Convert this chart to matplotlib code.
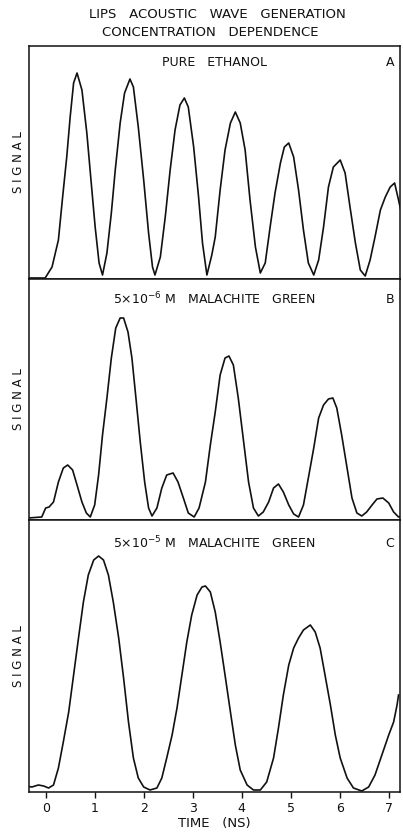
import matplotlib
matplotlib.use("Agg")
import matplotlib.pyplot as plt

# time (ns) / signal (a.u.)
t_a = [-0.34, -0.01, 0.13, 0.26, 0.34, 0.43, 0.50, 0.57, 0.64, 0.74, 0.84, 0.93, 1.01, 1.09, 1.16,
       1.25, 1.34, 1.42, 1.52, 1.61, 1.72, 1.79, 1.89, 2.00, 2.10, 2.18, 2.23,
       2.34, 2.44, 2.54, 2.64, 2.74, 2.83, 2.91, 3.02, 3.12, 3.20, 3.29,
       3.39, 3.46, 3.56, 3.66, 3.77, 3.87, 3.97, 4.07, 4.17, 4.28, 4.38,
       4.48, 4.58, 4.68, 4.79, 4.87, 4.96, 5.06, 5.16, 5.26, 5.36, 5.47,
       5.57, 5.67, 5.77, 5.87, 6.01, 6.11, 6.21, 6.32, 6.42, 6.52,
       6.62, 6.72, 6.83, 6.93, 7.03, 7.12, 7.20, 7.29]
s_a = [1, 1, 12, 39, 79, 122, 162, 196, 206, 189, 146, 96, 52, 16, 4,
       26, 66, 109, 156, 186, 200, 192, 152, 99, 46, 12, 4,
       22, 62, 109, 149, 174, 181, 172, 132, 82, 36, 4,
       24, 42, 89, 129, 156, 167, 156, 129, 79, 32, 6,
       16, 52, 86, 116, 132, 136, 122, 89, 49, 16, 4,
       19, 52, 92, 112, 119, 106, 72, 36, 9, 3,
       19, 42, 69, 82, 92, 96, 79, 59]

t_b = [-0.36, -0.08, 0.00, 0.07, 0.16, 0.26, 0.36, 0.45, 0.55, 0.64, 0.74, 0.83, 0.91,
       1.00, 1.08, 1.16, 1.25, 1.34, 1.43, 1.52, 1.59, 1.68, 1.76, 1.85, 1.93, 2.02, 2.10, 2.17,
       2.27, 2.37, 2.47, 2.60, 2.70, 2.81, 2.91, 3.03,
       3.13, 3.26, 3.36, 3.46, 3.56, 3.66, 3.74, 3.83, 3.93, 4.04, 4.14, 4.24, 4.34,
       4.44, 4.55, 4.65, 4.75, 4.85, 4.96, 5.06, 5.16,
       5.26, 5.36, 5.47, 5.57, 5.67, 5.77, 5.86, 5.94, 6.04, 6.15, 6.25, 6.35, 6.45,
       6.55, 6.66, 6.76, 6.88, 7.00, 7.10, 7.20, 7.29]
s_b = [2, 3, 12, 13, 18, 38, 52, 55, 50, 35, 18, 7, 3,
       15, 45, 85, 122, 162, 192, 202, 202, 188, 162, 118, 78, 38, 12, 4,
       12, 32, 45, 47, 38, 22, 7, 3,
       12, 38, 75, 108, 145, 162, 164, 155, 122, 78, 38, 12, 4,
       8, 18, 32, 36, 28, 15, 6, 3,
       15, 42, 72, 102, 115, 121, 122, 112, 85, 52, 22, 7, 4,
       8, 15, 21, 22, 17, 8, 3, 4]

t_c = [-0.42, -0.28, -0.15, -0.04, 0.06, 0.16, 0.26, 0.36, 0.47, 0.57, 0.67, 0.77, 0.87, 0.98,
       1.08, 1.18, 1.28, 1.38, 1.49, 1.59, 1.69, 1.79, 1.89, 2.00, 2.13,
       2.27, 2.37, 2.47, 2.58, 2.68, 2.78, 2.88, 2.98, 3.09, 3.19, 3.26,
       3.36, 3.46, 3.56, 3.66, 3.77, 3.87, 3.97, 4.11, 4.24, 4.38,
       4.51, 4.65, 4.75, 4.85, 4.96, 5.06, 5.16, 5.26, 5.40,
       5.50, 5.60, 5.70, 5.81, 5.91, 6.01, 6.15, 6.28, 6.45,
       6.59, 6.72, 6.86, 7.00, 7.10, 7.17, 7.20]
s_c = [6, 5, 7, 6, 4, 7, 24, 50, 80, 117, 154, 190, 217, 232,
       236, 232, 217, 190, 154, 114, 70, 34, 14, 5, 2,
       4, 14, 34, 57, 84, 117, 150, 177, 197, 205, 206,
       200, 180, 150, 117, 80, 47, 22, 7, 2, 2,
       10, 34, 64, 97, 127, 144, 154, 162, 167,
       160, 144, 117, 87, 57, 34, 14, 4, 1,
       5, 17, 37, 57, 70, 87, 97]

labels = ["PURE   ETHANOL",
          r"5$\times$10$^{-6}$ M   MALACHITE   GREEN",
          r"5$\times$10$^{-5}$ M   MALACHITE   GREEN"]
letters = ["A", "B", "C"]
ticks = [0, 1, 2, 3, 4, 5, 6, 7]

W, H = 403, 835
fig = plt.figure(figsize=(W / 100, H / 100), dpi=100)

# panel extents in pixels (top, bottom, y range)
panels = [(46, 279, 233), (279, 520, 241), (520, 792, 272)]
left, right = 29, 400
ink = "#111111"

axes = []
for i, (top, bot, ymax) in enumerate(panels):
    ax = fig.add_axes([left / W, 1 - bot / H, (right - left) / W, (bot - top) / H],
                      sharex=axes[0] if axes else None)
    axes.append(ax)
    t, s = [(t_a, s_a), (t_b, s_b), (t_c, s_c)][i]
    ax.plot(t, s, color=ink, lw=1.2, solid_joinstyle="round")
    ax.set_xlim(-0.34, 7.23)
    ax.set_ylim(0, ymax)
    ax.set_yticks([])
    ax.set_xticks(ticks)
    ax.tick_params(axis="x", direction="out", length=4, width=1, color=ink,
                   labelsize=9, pad=3, labelcolor=ink)
    for sp in ax.spines.values():
        sp.set_linewidth(1.1)
        sp.set_color(ink)
    ax.set_ylabel("S I G N A L", fontsize=8.5, color=ink, labelpad=3)
    ypos = 0.93 if i == 0 else 0.915
    ax.text(0.50, ypos, labels[i], transform=ax.transAxes,
            ha="center", va="center", fontsize=9, color=ink)
    ax.text(0.985, ypos, letters[i], transform=ax.transAxes,
            ha="right", va="center", fontsize=9, color=ink)
    if i < 2:
        ax.tick_params(axis="x", labelbottom=False)

axes[2].set_xlabel("TIME   (NS)", fontsize=9.5, color=ink, labelpad=2)

fig.text(217 / W, 1 - 14 / H, "LIPS   ACOUSTIC   WAVE   GENERATION", ha="center", va="center",
         fontsize=9.5, color=ink)
fig.text(210 / W, 1 - 32 / H, "CONCENTRATION   DEPENDENCE", ha="center", va="center",
         fontsize=9.5, color=ink)

fig.savefig("out.png", dpi=100)
